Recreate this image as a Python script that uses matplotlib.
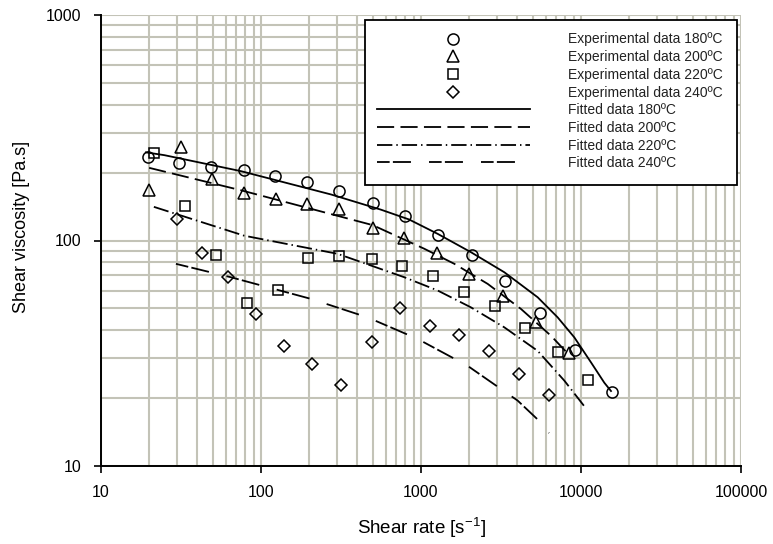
import matplotlib
matplotlib.use("Agg")
import matplotlib.pyplot as plt
from matplotlib.patches import Rectangle
from matplotlib.ticker import LogLocator, NullFormatter

plt.rcParams['font.family'] = ['Liberation Sans', 'DejaVu Sans']
plt.rcParams['mathtext.fontset'] = 'custom'
plt.rcParams['mathtext.rm'] = 'Liberation Sans'

# Experimental data
x180 = [19.6, 30.9, 48.7, 78, 122, 193, 306, 499, 794, 1283, 2075, 3365, 5540, 9210, 15630]
y180 = [234, 221, 212, 205, 194, 182, 166, 146, 128, 106, 85.8, 66.4, 47.9, 32.8, 21.3]

x200 = [20.0, 31.6, 49.4, 78.6, 124, 194, 306, 502, 787, 1259, 2004, 3240, 5230, 8450]
y200 = [167, 260, 188, 162, 152, 144.5, 138, 114, 103, 87.8, 71.1, 56.5, 43.5, 31.7]

x220 = [21.4, 33.5, 52.3, 81.8, 128, 196, 308, 494, 760, 1194, 1866, 2910, 4490, 7150, 11010]
y220 = [244, 142, 86.3, 52.6, 60.6, 83.4, 85.1, 83.2, 76.9, 69.4, 59.3, 51.2, 40.8, 31.9, 24.0]

x240 = [29.7, 42.8, 62.5, 93.1, 140, 208, 316, 494, 743, 1138, 1735, 2673, 4110, 6340]
y240 = [124, 88.2, 68.7, 47.2, 33.9, 28.3, 22.8, 35.6, 50.0, 41.9, 38.1, 32.5, 25.6, 20.6]

# Fitted curves
fx180 = [19.1, 24.9, 75, 274, 562, 841, 1272, 2054, 3318, 5360, 7150, 9080, 11550, 13990, 15400]
fy180 = [246, 239, 203, 160, 137, 124, 107, 88.7, 72.3, 56, 45.6, 37.2, 28.8, 23.4, 21.5]

fx200 = [20, 75, 499, 1049, 1616, 2612, 4217, 6494, 8175]
fy200 = [210, 167, 117, 91.9, 78.8, 64.2, 49.7, 37.8, 31.8]

fx220 = [21.4, 78.6, 301, 787, 1272, 2054, 3318, 5360, 7870, 10490]
fy220 = [141, 105, 87.3, 68.7, 60, 50.5, 41.2, 32.4, 23.9, 18.4]

fx240 = [29.4, 64.9, 205, 464, 953, 1958, 4018, 5400, 6310]
fy240 = [78.8, 68.7, 55.1, 45.6, 36.6, 27.8, 19.5, 16.0, 14.0]

labels_exp = ['Experimental data 180ºC', 'Experimental data 200ºC',
              'Experimental data 220ºC', 'Experimental data 240ºC']
labels_fit = ['Fitted data 180ºC', 'Fitted data 200ºC',
              'Fitted data 220ºC', 'Fitted data 240ºC']
xtick_vals = [10, 100, 1000, 10000, 100000]
xtick_labels = ['10', '100', '1000', '10000', '100000']
ytick_vals = [10, 100, 1000]
ytick_labels = ['10', '100', '1000']

fig = plt.figure(figsize=(7.73, 5.44), dpi=100)
W, H = 773, 544
L, R, T, B = 101, 741, 15, 466
ax = fig.add_axes([L / W, 1 - B / H, (R - L) / W, (B - T) / H])

ax.set_xscale('log')
ax.set_yscale('log')
ax.set_xlim(10, 100000)
ax.set_ylim(10, 1000)

gridc = '#c3c3b7'
ax.grid(True, which='both', color=gridc, linewidth=1.5)
ax.set_axisbelow(True)
ax.xaxis.set_minor_locator(LogLocator(base=10, subs=range(2, 10)))
ax.yaxis.set_minor_locator(LogLocator(base=10, subs=range(2, 10)))
ax.xaxis.set_minor_formatter(NullFormatter())
ax.yaxis.set_minor_formatter(NullFormatter())
ax.set_xticks(xtick_vals)
ax.set_xticklabels(xtick_labels)
ax.set_yticks(ytick_vals)
ax.set_yticklabels(ytick_labels)
ax.tick_params(which='major', direction='out', length=5, width=1.2, labelsize=11.5, pad=9)
ax.tick_params(which='minor', length=0)

for s in ['top', 'right']:
    ax.spines[s].set_visible(False)
for s in ['left', 'bottom']:
    ax.spines[s].set_linewidth(1.4)
    ax.spines[s].set_color('black')

mk = dict(linestyle='none', markerfacecolor='none', markeredgecolor='black',
          markeredgewidth=1.1, clip_on=False)
h1, = ax.plot(x180, y180, marker='o', markersize=8, label=labels_exp[0], **mk)
h2, = ax.plot(x200, y200, marker='^', markersize=8, label=labels_exp[1], **mk)
h3, = ax.plot(x220, y220, marker='s', markersize=7.5, label=labels_exp[2], **mk)
h4, = ax.plot(x240, y240, marker='D', markersize=6.5, label=labels_exp[3], **mk)

lw = 1.3
f1, = ax.plot(fx180, fy180, color='black', lw=lw, linestyle='-', label=labels_fit[0])
f2, = ax.plot(fx200, fy200, color='black', lw=lw, linestyle=(0, (9.5, 3.5)), label=labels_fit[1])
f3, = ax.plot(fx220, fy220, color='black', lw=lw, linestyle=(0, (8.5, 2.2, 0.8, 2.2)), label=labels_fit[2])
f4, = ax.plot(fx240, fy240, color='black', lw=lw, linestyle=(0, (7, 1.8, 10, 10)), label=labels_fit[3])

# legend frame
bx0, by0, bx1, by1 = 365, 20, 737, 185
rect = Rectangle((bx0 / W, 1 - by1 / H), (bx1 - bx0) / W, (by1 - by0) / H,
                 transform=fig.transFigure, facecolor='white', edgecolor='black',
                 linewidth=1.3, zorder=5)
fig.patches.append(rect)

leg = fig.legend(handles=[h1, h2, h3, h4, f1, f2, f3, f4],
                 loc='upper left', bbox_to_anchor=(377 / W, 1 - 32.5 / H),
                 frameon=False, fontsize=10, numpoints=1,
                 handlelength=11.0, handletextpad=2.75, labelspacing=0.265,
                 borderpad=0, borderaxespad=0)
leg.set_zorder(6)
for t in leg.get_texts():
    t.set_color('#222222')

fig.text(421 / W, 1 - 528 / H, r'Shear rate [s$^{\mathregular{-1}}$]', fontsize=13.5,
         ha='center', va='center')
fig.text(21.5 / W, 1 - 227 / H, 'Shear viscosity [Pa.s]', fontsize=13,
         ha='center', va='center', rotation=90)

fig.savefig('out.png', dpi=100)
